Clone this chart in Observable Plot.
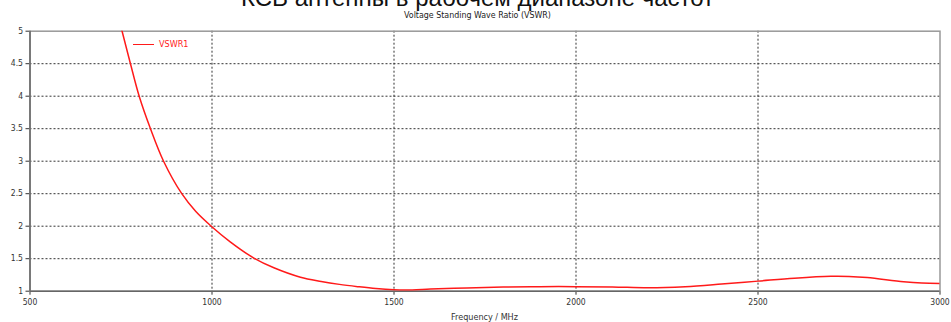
<!DOCTYPE html>
<html>
<head>
<meta charset="utf-8">
<script src="https://cdn.jsdelivr.net/npm/d3@7"></script>
<script src="https://cdn.jsdelivr.net/npm/@observablehq/plot@0.6"></script>
<style>
  body { margin: 0; background: #fff; }
  #wrap { position: relative; width: 951px; height: 322px; overflow: hidden; font-family: "DejaVu Sans Condensed", "Liberation Sans", sans-serif; }
  #title { position: absolute; left: 0; width: 955px; top: -14px; text-align: center; font: 24px/1 "Liberation Sans", Arial, sans-serif; color: #111; }
  #subtitle { position: absolute; left: 0; width: 955px; top: 10.5px; text-align: center; font-size: 8.8px; line-height: 1; color: #222; }
  #xlabel { position: absolute; left: 0; width: 969px; top: 313px; text-align: center; font-size: 9px; line-height: 1; color: #333; }
  #legend { position: absolute; left: 133px; top: 40px; font-size: 9px; line-height: 1; color: #ff1a1a; display: flex; align-items: center; }
  #legend span.sw { display: inline-block; width: 21px; height: 0; border-top: 1.5px solid #ff1a1a; margin-right: 5px; }
  #chart { position: absolute; left: 0; top: 0; }
</style>
</head>
<body>
<div id="wrap">
  <div id="chart"></div>
  <div id="title">КСВ антенны в рабочем диапазоне частот</div>
  <div id="subtitle">Voltage Standing Wave Ratio (VSWR)</div>
  <div id="xlabel">Frequency / MHz</div>
  <div id="legend"><span class="sw"></span>VSWR1</div>
</div>
<script>
// VSWR of the antenna across the working band
const freqMHz = [742, 753, 776, 800, 831, 867, 917, 955, 998, 1050, 1115, 1170, 1243, 1300, 1350, 1400, 1450, 1500, 1550, 1600, 1700, 1800, 1900, 2000, 2100, 2200, 2300, 2400, 2500, 2600, 2700, 2750, 2800, 2900, 2950, 3000];
const vswr1   = [5.24, 5.0, 4.5, 4.0, 3.5, 3.0, 2.5, 2.23, 2.0, 1.76, 1.51, 1.36, 1.215, 1.15, 1.105, 1.07, 1.04, 1.022, 1.02, 1.033, 1.05, 1.063, 1.07, 1.07, 1.065, 1.052, 1.07, 1.11, 1.155, 1.2, 1.23, 1.228, 1.21, 1.145, 1.125, 1.12];

const xTicks = [500, 1000, 1500, 2000, 2500, 3000];
const yTicks = [1, 1.5, 2, 2.5, 3, 3.5, 4, 4.5, 5];
const xGrid = [1000, 1500, 2000, 2500];
const yGrid = [1.5, 2, 2.5, 3, 3.5, 4, 4.5];

const data = freqMHz.map((f, i) => ({f, v: vswr1[i]}));

const chart = Plot.plot({
  width: 951,
  height: 322,
  marginLeft: 29.5,
  marginRight: 11.5,
  marginTop: 30.7,
  marginBottom: 31.3,
  style: {fontSize: "8.5px", fontFamily: "'DejaVu Sans Condensed', 'Liberation Sans', sans-serif", color: "#333", background: "transparent"},
  x: {domain: [500, 3000], ticks: xTicks, tickFormat: d => String(d), tickSize: 4, tickPadding: 4, label: null},
  y: {domain: [1, 5], ticks: yTicks, tickFormat: d => String(d), tickSize: 4, tickPadding: 3, label: null},
  marks: [
    Plot.ruleX(xGrid, {stroke: "#333", strokeDasharray: "2,2", strokeWidth: 1}),
    Plot.ruleY(yGrid, {stroke: "#333", strokeDasharray: "2,2", strokeWidth: 1}),
    Plot.frame({stroke: "#999", strokeWidth: 1.5}),
    Plot.ruleX([500], {stroke: "#666", strokeWidth: 1.5}),
    Plot.ruleY([1], {stroke: "#666", strokeWidth: 1.5}),
    Plot.line(data, {x: "f", y: "v", stroke: "#ff1a1a", strokeWidth: 1.5, curve: "catmull-rom", clip: true})
  ]
});
document.getElementById("chart").appendChild(chart);
</script>
</body>
</html>
